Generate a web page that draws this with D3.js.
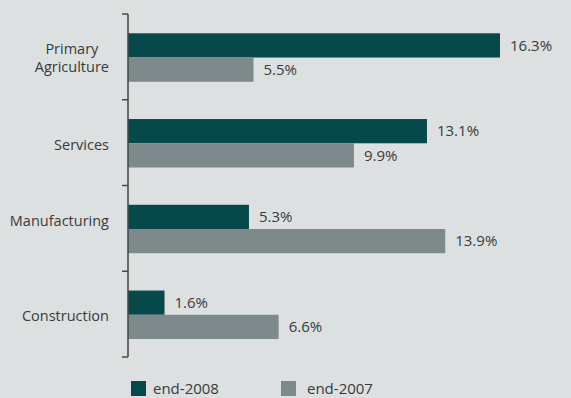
<!DOCTYPE html>
<html>
<head>
<meta charset="utf-8">
<script src="https://cdnjs.cloudflare.com/ajax/libs/d3/7.8.5/d3.min.js"></script>
<style>
  body { margin: 0; background: #dde0e1; }
  svg { display: block; font-family: "Open Sans", sans-serif; }
</style>
</head>
<body>
<div id="chart"></div>
<script>
const categories = ["Primary\nAgriculture", "Services", "Manufacturing", "Construction"]
const end2008 = [16.3, 13.1, 5.3, 1.6]
const end2007 = [5.5, 9.9, 13.9, 6.6]
const seriesNames = ["end-2008", "end-2007"]
const colors = ["#07484a", "#7d898b"]

// small vertical nudges of the category labels (as in the original layout)
const labelNudge = [1, 2, -7, 2]

const width = 571
const height = 398
const margin = {top: 14, right: 40, bottom: 41, left: 128}

const svg = d3.select("#chart").append("svg")
  .attr("width", width)
  .attr("height", height)

svg.append("rect").attr("width", width).attr("height", height).attr("fill", "#dde0e1")

const g = svg.append("g")
  .attr("transform", "translate(" + margin.left + "," + margin.top + ")")

const innerH = height - margin.top - margin.bottom

// 16.3 -> ~372px
const x = d3.scaleLinear().domain([0, 16.3]).range([0, 372])

const y = d3.scaleBand().domain(categories).range([0, innerH]).paddingInner(0).paddingOuter(0)

const sub = d3.scaleBand().domain(seriesNames).range([y.bandwidth() * 0.225, y.bandwidth() * 0.79])

const data = categories.map((c, i) => ({cat: c, i: i, values: [end2008[i], end2007[i]]}))

const groups = g.selectAll(".grp").data(data).enter().append("g")
  .attr("transform", d => "translate(0," + y(d.cat) + ")")

groups.selectAll("rect").data(d => d.values.map((v, j) => ({v: v, s: seriesNames[j], j: j})))
  .enter().append("rect")
  .attr("x", 0)
  .attr("y", d => sub(d.s))
  .attr("width", d => x(d.v))
  .attr("height", sub.bandwidth())
  .attr("fill", d => colors[d.j])

groups.selectAll(".val").data(d => d.values.map((v, j) => ({v: v, s: seriesNames[j]})))
  .enter().append("text")
  .attr("class", "val")
  .attr("x", d => x(d.v) + 10)
  .attr("y", d => sub(d.s) + sub.bandwidth() / 2)
  .attr("dy", "0.35em")
  .attr("fill", "#3a3a3a")
  .style("font-size", "15px")
  .text(d => d.v.toFixed(1) + "%")

// axis with ticks at band edges
const tickPos = d3.range(categories.length + 1).map(i => i * y.step())
g.append("line")
  .attr("x1", 0).attr("x2", 0)
  .attr("y1", 0).attr("y2", innerH)
  .attr("stroke", "#4a4a4a").attr("stroke-width", 1.6)
g.selectAll(".tick").data(tickPos).enter().append("line")
  .attr("x1", -6).attr("x2", 0)
  .attr("y1", d => d).attr("y2", d => d)
  .attr("stroke", "#4a4a4a").attr("stroke-width", 1.5)

// category labels, right aligned, lines centred to each other
groups.each(function(d) {
  const lines = d.cat.split("\n")
  const t = d3.select(this).append("text")
    .attr("fill", "#3a3a3a")
    .style("font-size", "14.5px")
    .attr("text-anchor", "middle")
  lines.forEach(l => t.append("tspan").text(l))
  const w = d3.max(t.selectAll("tspan").nodes(), n => n.getComputedTextLength())
  const cx = -19 - w / 2
  const lh = 18
  t.selectAll("tspan")
    .attr("x", cx)
    .attr("y", (n, k) => y.bandwidth() / 2 + labelNudge[d.i] + (k - (lines.length - 1) / 2) * lh)
    .attr("dy", "0.35em")
})

// legend
const legend = svg.append("g").attr("transform", "translate(131,381)")
const lx = [0, 150]
seriesNames.forEach((s, i) => {
  const lg = legend.append("g").attr("transform", "translate(" + lx[i] + ",0)")
  lg.append("rect").attr("width", 15).attr("height", 15).attr("fill", colors[i])
  lg.append("text")
    .attr("x", i == 0 ? 22 : 26)
    .attr("y", 7.5)
    .attr("dy", "0.35em")
    .attr("fill", "#3a3a3a")
    .style("font-size", "15px")
    .text(s)
})
</script>
</body>
</html>
